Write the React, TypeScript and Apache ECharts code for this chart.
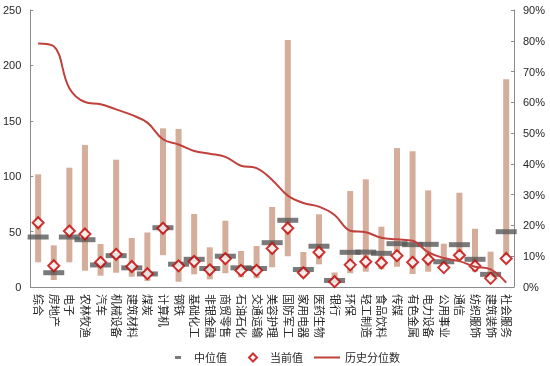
import React, { useEffect, useRef } from "react";
import * as echarts from "echarts";

const categories = ["综合","房地产","电子","农林牧渔","汽车","机械设备","建筑材料","煤炭","计算机","钢铁","基础化工","非银金融","商贸零售","石油石化","交通运输","美容护理","国防军工","家用电器","医药生物","银行","环保","轻工制造","食品饮料","传媒","有色金属","电力设备","公用事业","通信","纺织服饰","建筑装饰","社会服务"];
const maxValues = [101.7, 37.6, 107.7, 128.2, 38.8, 114.9, 44.2, 49.2, 143.2, 142.6, 65.9, 35.8, 59.8, 32.5, 37, 72.2, 222.9, 31.6, 65.6, 13.1, 86.6, 97.2, 54.4, 125.4, 122.5, 87.2, 39.1, 85.1, 52.6, 31.9, 187.4];
const minValues = [22.3, 6.3, 22.3, 14.7, 10.2, 12.9, 9.3, 5.5, 28.7, 4.8, 11.4, 6.9, 12.4, 8.7, 7.8, 17.8, 27.7, 9.3, 20.5, 1.8, 12.4, 13.8, 16, 18.3, 11.7, 13.8, 20, 25, 13.8, 7.8, 27.4];
const medianValues = [45.1, 12.9, 45.1, 42.7, 19.9, 28.3, 17.3, 11.8, 53.5, 20.6, 25, 16.7, 27.8, 17.3, 16.7, 40, 60.2, 15.8, 36.8, 5.9, 31.3, 31.5, 30.4, 39.1, 38.2, 38.5, 22.8, 38.2, 25, 11.4, 49.9];
const currentValues = [58, 19.2, 50.5, 47.8, 22.3, 29.5, 18.5, 12, 53, 19.1, 23, 15.5, 25.6, 15, 15, 34.8, 53, 12.8, 31.3, 4.8, 20, 22.8, 21.9, 28.3, 22.3, 25, 17.5, 28.6, 19, 7.8, 25.7];
const percentileValues = [79.1, 78.2, 64.6, 60.1, 59.4, 57.7, 55.9, 53.4, 48, 46.3, 44.2, 43.3, 42.3, 39.4, 38.6, 34.8, 29.7, 27.3, 26.1, 23.4, 18.3, 17.8, 16, 15.5, 15, 11.3, 9.4, 8.4, 6.6, 5.7, 1.4];
const leftTicks = { min: 0, max: 250, interval: 50 };
const rightTicks = { min: 0, max: 90, interval: 10 };

const FONT = "'Liberation Sans', Arial, 'Noto Sans CJK SC', sans-serif";
const AXIS_COLOR = "#8c8c8c";
const TEXT_COLOR = "#262626";

export default function App() {
  const ref = useRef<HTMLDivElement>(null);
  useEffect(() => {
    if (!ref.current) return;
    const chart = echarts.init(ref.current, null, { renderer: "svg" });
    const rangeValues = maxValues.map((v, i) => +(v - minValues[i]).toFixed(2));
    chart.setOption({
      animation: false,
      textStyle: { fontFamily: FONT },
      grid: { left: 30, right: 36, top: 10, bottom: 79 },
      legend: [
        {
          data: ["中位值"], left: 170, top: 347, itemWidth: 6, itemHeight: 3, icon: "rect",
          textStyle: { fontSize: 11, color: TEXT_COLOR, fontFamily: FONT, padding: [0, 0, 0, 8] },
        },
        {
          data: ["当前值"], left: 243, top: 347, itemWidth: 8, itemHeight: 8, icon: "diamond",
          textStyle: { fontSize: 11, color: TEXT_COLOR, fontFamily: FONT, padding: [0, 0, 0, 8] },
        },
        {
          data: [{ name: "历史分位数", icon: "rect" }], left: 309, top: 347, itemWidth: 26, itemHeight: 2,
          textStyle: { fontSize: 11, color: TEXT_COLOR, fontFamily: FONT },
        },
      ],
      xAxis: {
        type: "category",
        data: categories,
        boundaryGap: true,
        axisLine: { lineStyle: { color: AXIS_COLOR } },
        axisTick: { inside: true, length: 3, interval: 0, lineStyle: { color: AXIS_COLOR } },
        axisLabel: { interval: 0, rotate: -90, margin: 7, fontSize: 11, color: TEXT_COLOR, fontFamily: FONT },
      },
      yAxis: [
        {
          type: "value", ...leftTicks,
          axisLine: { show: true, lineStyle: { color: AXIS_COLOR } },
          axisTick: { show: true, inside: true, length: 3, lineStyle: { color: AXIS_COLOR } },
          splitLine: { show: false },
          axisLabel: { fontSize: 11, color: TEXT_COLOR, margin: 9, fontFamily: FONT },
        },
        {
          type: "value", ...rightTicks,
          axisLine: { show: true, lineStyle: { color: AXIS_COLOR } },
          axisTick: { show: true, inside: true, length: 3, lineStyle: { color: AXIS_COLOR } },
          splitLine: { show: false },
          axisLabel: { fontSize: 11, color: TEXT_COLOR, margin: 9, formatter: "{value}%", fontFamily: FONT },
        },
      ],
      series: [
        {
          name: "base", type: "bar", stack: "r", data: minValues, barWidth: 6,
          itemStyle: { color: "transparent" }, silent: true,
        },
        {
          name: "range", type: "bar", stack: "r", data: rangeValues, barWidth: 6,
          itemStyle: { color: "#D5AD9B" },
        },
        {
          name: "历史分位数", type: "line", yAxisIndex: 1, data: percentileValues, smooth: 0.4,
          symbol: "none", lineStyle: { color: "#C0403C", width: 2 }, itemStyle: { color: "#C0403C" },
        },
        {
          name: "中位值", type: "scatter", data: medianValues, symbol: "rect", symbolSize: [21, 5],
          itemStyle: { color: "#595959" },
        },
        {
          name: "当前值", type: "scatter", data: currentValues, symbol: "diamond", symbolSize: 11,
          itemStyle: { color: "#ffffff", borderColor: "#C00000", borderWidth: 2 },
        },
      ],
    });
    return () => chart.dispose();
  }, []);
  return <div ref={ref} style={{ position: "fixed", left: 0, top: 0, width: 550, height: 366 }} />;
}
